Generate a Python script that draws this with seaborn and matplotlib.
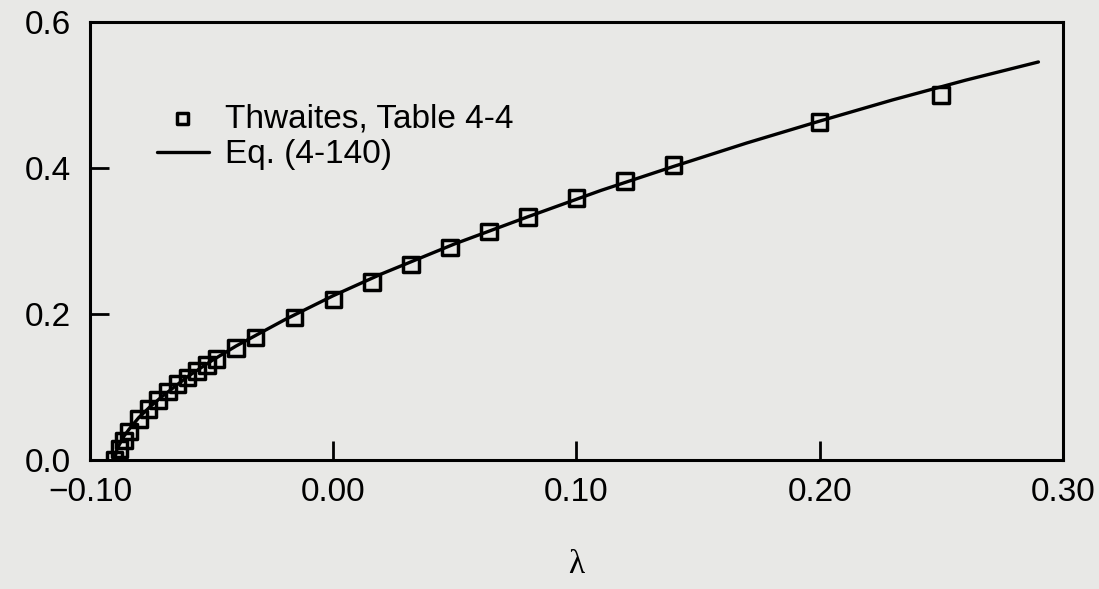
import numpy as np
import pandas as pd
import matplotlib
matplotlib.use("Agg")
import matplotlib.pyplot as plt
import seaborn as sns

# Thwaites, Table 4-4 (lambda, S)
thw_lambda = [0.25, 0.20, 0.14, 0.12, 0.10, 0.08, 0.064, 0.048, 0.032, 0.016,
              0.0, -0.016, -0.032, -0.040, -0.048, -0.052, -0.056, -0.060,
              -0.064, -0.068, -0.072, -0.076, -0.080, -0.084, -0.086, -0.088, -0.090]
thw_S = [0.500, 0.463, 0.404, 0.382, 0.359, 0.333, 0.313, 0.291, 0.268, 0.244,
         0.220, 0.195, 0.168, 0.153, 0.138, 0.130, 0.122, 0.113,
         0.104, 0.094, 0.082, 0.070, 0.056, 0.039, 0.027, 0.015, 0.000]

# Eq. (4-140) curve
eq_lambda = [-0.090, -0.089, -0.088, -0.086, -0.084, -0.080, -0.075, -0.070, -0.060,
             -0.050, -0.040, -0.020, 0.000, 0.020, 0.050, 0.080, 0.110, 0.140,
             0.170, 0.200, 0.230, 0.260, 0.290]
eq_S = [0.000, 0.014, 0.021, 0.033, 0.042, 0.058, 0.074, 0.088, 0.114,
        0.136, 0.156, 0.192, 0.225, 0.255, 0.296, 0.333, 0.369, 0.402,
        0.434, 0.464, 0.493, 0.520, 0.545]

x_ticks = [-0.10, 0.00, 0.10, 0.20, 0.30]
x_tick_labels = ["\u22120.10", "0.00", "0.10", "0.20", "0.30"]
y_ticks = [0.0, 0.2, 0.4, 0.6]
y_tick_labels = ["0.0", "0.2", "0.4", "0.6"]

sns.set_theme(style="white")
plt.rcParams["font.family"] = ["Liberation Sans", "DejaVu Sans"]
plt.rcParams["text.color"] = "black"

bg = "#e8e8e6"
fig = plt.figure(figsize=(10.99, 5.89), dpi=100, facecolor=bg)
ax = fig.add_axes([0.082, 0.219, 0.885, 0.744])
ax.set_facecolor(bg)

df_eq = pd.DataFrame({"lam": eq_lambda, "S": eq_S})
df_thw = pd.DataFrame({"lam": thw_lambda, "S": thw_S})

sns.lineplot(data=df_eq, x="lam", y="S", ax=ax, color="black", linewidth=2.4,
             label="Eq. (4-140)", sort=True, zorder=2)
sns.scatterplot(data=df_thw, x="lam", y="S", ax=ax, marker="s", s=125,
                facecolor="none", edgecolor="black", linewidth=2.5,
                label="Thwaites, Table 4-4", zorder=3)

ax.set_xlim(-0.10, 0.30)
ax.set_ylim(0.0, 0.6)
ax.set_xticks(x_ticks)
ax.set_xticklabels(x_tick_labels)
ax.set_yticks(y_ticks)
ax.set_yticklabels(y_tick_labels)
ax.tick_params(direction="in", length=14, width=2, labelsize=24, colors="black",
               pad=12, bottom=True, left=True, top=False, right=False)
ax.tick_params(axis="y", pad=14)
for sp in ax.spines.values():
    sp.set_visible(True)
    sp.set_linewidth(2.2)
    sp.set_color("black")

ax.set_xlabel("\u03bb", family=["Liberation Serif", "DejaVu Serif"], fontsize=24,
              labelpad=30, color="black")
ax.set_ylabel("")

handles, labels = ax.get_legend_handles_labels()
order = [labels.index("Thwaites, Table 4-4"), labels.index("Eq. (4-140)")]
leg = ax.legend([handles[i] for i in order], [labels[i] for i in order],
                loc="upper left", bbox_to_anchor=(0.055, 0.845), frameon=False,
                fontsize=24, handlelength=1.55, handletextpad=0.5,
                labelspacing=0.16, markerscale=0.7, borderaxespad=0)
for t in leg.get_texts():
    t.set_color("black")

fig.savefig("out.png", dpi=100, facecolor=bg)
